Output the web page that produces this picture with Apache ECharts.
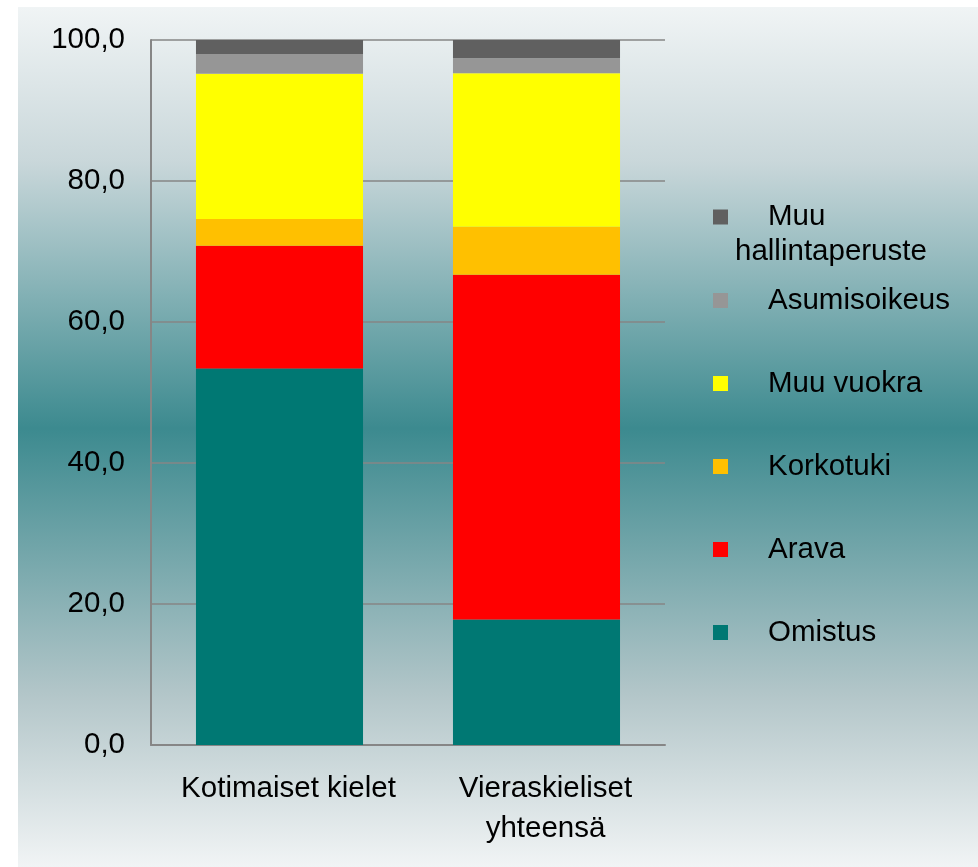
<!DOCTYPE html>
<html>
<head>
<meta charset="utf-8">
<script src="https://cdn.jsdelivr.net/npm/echarts@6/dist/echarts.min.js"></script>
<style>
  html, body { margin: 0; padding: 0; background: #fff; }
  #chart { width: 978px; height: 867px; }
</style>
</head>
<body>
<div id="chart"></div>
<script>
// kategoriat
const categories = ['Kotimaiset kielet', 'Vieraskieliset\nyhteensä']
// sarjat (%), alhaalta ylös
const omistus = [53.4, 17.8]
const arava = [17.4, 48.9]
const korkotuki = [3.8, 6.8]
const muuVuokra = [20.6, 21.8]
const asumisoikeus = [2.8, 2.1]
const muuHallinta = [2.0, 2.6]
const yTicks = [0, 20, 40, 60, 80, 100]

const font = 'Liberation Sans, Arial, sans-serif'
const fs = 29.5

const chart = echarts.init(document.getElementById('chart'))

function bar(name, data, color) {
  return {
    name: name,
    type: 'bar',
    stack: 'all',
    barWidth: '65%',
    itemStyle: { color: color },
    data: data,
  }
}

const option = {
  backgroundColor: '#ffffff',
  animation: false,
  graphic: [
    {
      type: 'rect',
      z: -100,
      silent: true,
      shape: { x: 18, y: 7, width: 960, height: 860 },
      style: {
        fill: new echarts.graphic.LinearGradient(0, 0, 0, 1, [
          { offset: 0, color: '#f0f4f5' },
          { offset: 0.18, color: '#c9d7da' },
          { offset: 0.49, color: '#3c8a8f' },
          { offset: 0.8, color: '#b3c6c9' },
          { offset: 1, color: '#f1f4f5' },
        ]),
      },
    },
  ],
  grid: { left: 151, right: 313, top: 40, bottom: 122 },
  legend: [
    {
      orient: 'vertical',
      left: 713,
      top: 202,
      padding: 0,
      itemWidth: 15,
      itemHeight: 15,
      icon: 'rect',
      data: ['Muu hallintaperuste'],
      formatter: () => '{a|Muu}\n{b|hallintaperuste}',
      textStyle: {
        color: '#000',
        fontFamily: font,
        fontSize: fs,
        padding: [35, 0, 0, 0],
        rich: {
          a: { fontFamily: font, fontSize: fs, lineHeight: 35, padding: [0, 0, 0, 35] },
          b: { fontFamily: font, fontSize: fs, lineHeight: 35, padding: [0, 0, 0, 2] },
        },
      },
    },
    {
      orient: 'vertical',
      left: 713,
      top: 283,
      padding: 0,
      itemGap: 48,
      itemWidth: 15,
      itemHeight: 15,
      icon: 'rect',
      data: ['Asumisoikeus', 'Muu vuokra', 'Korkotuki', 'Arava', 'Omistus'],
      textStyle: {
        color: '#000',
        fontFamily: font,
        fontSize: fs,
        lineHeight: 35,
        padding: [0, 0, 0, 35],
      },
    },
  ],
  xAxis: {
    type: 'category',
    data: categories,
    axisLine: { lineStyle: { color: '#868686', width: 2 } },
    axisTick: { show: false },
    axisLabel: {
      interval: 0,
      hideOverlap: false,
      color: '#000',
      fontFamily: font,
      fontSize: fs,
      lineHeight: 40,
      margin: 24,
      padding: [0, 0, 0, 18],
    },
  },
  yAxis: {
    type: 'value',
    min: 0,
    max: 100,
    interval: 20,
    axisLine: { show: true, lineStyle: { color: '#868686', width: 2 } },
    axisTick: { show: false },
    splitLine: { lineStyle: { color: '#868686', width: 1.5 } },
    axisLabel: {
      color: '#000',
      fontFamily: font,
      fontSize: fs,
      margin: 26,
      formatter: (v) => (yTicks.includes(v) ? v.toFixed(1).replace('.', ',') : ''),
    },
  },
  series: [
    bar('Omistus', omistus, '#007873'),
    bar('Arava', arava, '#ff0000'),
    bar('Korkotuki', korkotuki, '#ffc000'),
    bar('Muu vuokra', muuVuokra, '#ffff00'),
    bar('Asumisoikeus', asumisoikeus, '#969696'),
    bar('Muu hallintaperuste', muuHallinta, '#606060'),
  ],
}

chart.setOption(option)
</script>
</body>
</html>
